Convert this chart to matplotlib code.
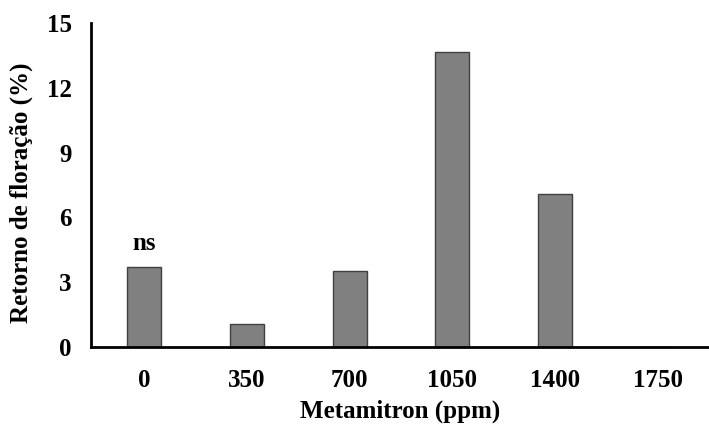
import matplotlib
matplotlib.use("Agg")
import matplotlib.pyplot as plt

# doses de metamitron e retorno de floração
doses = ['0', '350', '700', '1050', '1400', '1750']
retorno = [3.72, 1.06, 3.5, 13.67, 7.08, 0.0]
y_ticks = [0, 3, 6, 9, 12, 15]

plt.rcParams['font.family'] = ['Liberation Serif', 'DejaVu Serif']
plt.rcParams['font.weight'] = 'bold'

fig = plt.figure(figsize=(7.09, 4.24), dpi=100)
ax = fig.add_axes([91 / 709, 1 - 347 / 424, 1 - 91 / 709, (347 - 23) / 424])

x = range(len(doses))
ax.bar(x, retorno, width=0.33, align='center', color='#808080', edgecolor='#404040',
       linewidth=1.0, zorder=2)

ax.set_xlim(-0.52, len(doses) - 0.5)
ax.set_ylim(0, 15)
ax.set_yticks(y_ticks)
ax.set_xticks(list(x))
ax.set_xticklabels(doses)
ax.tick_params(axis='both', length=0, labelsize=18)
ax.tick_params(axis='x', pad=16)
ax.tick_params(axis='y', pad=14)

for s in ['top', 'right']:
    ax.spines[s].set_visible(False)
for s in ['left', 'bottom']:
    ax.spines[s].set_linewidth(2)

ax.set_xlabel('Metamitron (ppm)', fontsize=18, fontweight='bold', labelpad=5)
ax.set_ylabel('Retorno de floração (%)', fontsize=18, fontweight='bold')
ax.yaxis.set_label_coords(-0.094, 0.475)

ax.text(0, retorno[0] + 0.55, 'ns', ha='center', va='bottom', fontsize=18, fontweight='bold')

fig.savefig('out.png', dpi=100)
